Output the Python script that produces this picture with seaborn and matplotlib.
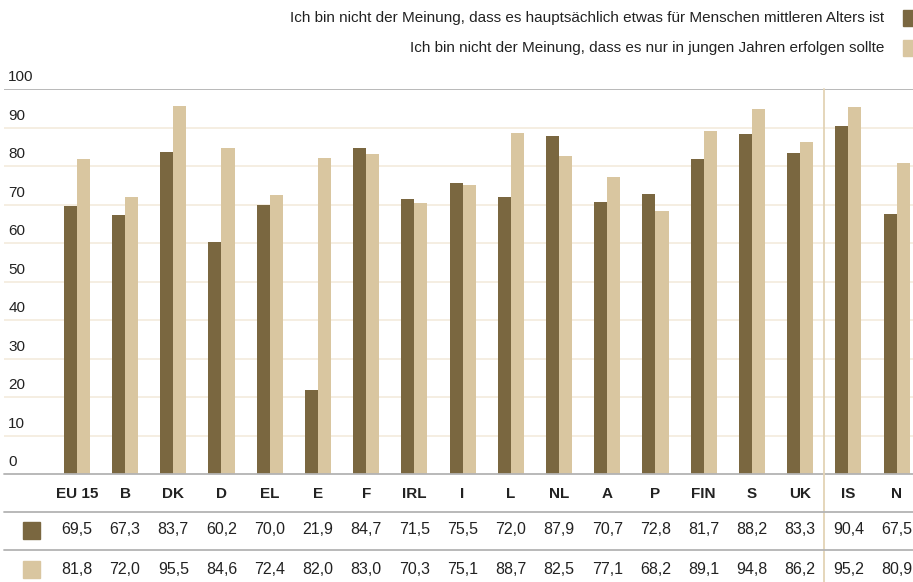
import matplotlib
matplotlib.use("Agg")
import matplotlib.pyplot as plt
import matplotlib.transforms as mtransforms
import pandas as pd
import seaborn as sns

laender = ["EU 15", "B", "DK", "D", "EL", "E", "F", "IRL", "I", "L",
           "NL", "A", "P", "FIN", "S", "UK", "IS", "N"]
mittleres_alter = [69.5, 67.3, 83.7, 60.2, 70.0, 21.9, 84.7, 71.5, 75.5, 72.0,
                   87.9, 70.7, 72.8, 81.7, 88.2, 83.3, 90.4, 67.5]
junge_jahre = [81.8, 72.0, 95.5, 84.6, 72.4, 82.0, 83.0, 70.3, 75.1, 88.7,
               82.5, 77.1, 68.2, 89.1, 94.8, 86.2, 95.2, 80.9]
reihen = ["Ich bin nicht der Meinung, dass es hauptsächlich etwas für Menschen mittleren Alters ist",
          "Ich bin nicht der Meinung, dass es nur in jungen Jahren erfolgen sollte"]
y_ticks = [0, 10, 20, 30, 40, 50, 60, 70, 80, 90, 100]

dunkel = "#7a6740"
hell = "#d9c6a0"
raster = "#f3ebdd"
linie = "#b3b3b3"
trenner = "#e3d3b5"

df = pd.DataFrame({
    "land": laender * 2,
    "wert": mittleres_alter + junge_jahre,
    "reihe": [reihen[0]] * len(laender) + [reihen[1]] * len(laender),
})

sns.set_style("white")
plt.rcParams["font.family"] = ["Liberation Sans", "DejaVu Sans"]

W, H = 913, 582
fig = plt.figure(figsize=(W / 100, H / 100), dpi=100)
ax = fig.add_axes([4 / W, 1 - 474 / H, 909 / W, (474 - 89) / H])

sns.barplot(data=df, x="land", y="wert", hue="reihe", palette=[dunkel, hell],
            width=0.54, legend=False, ax=ax, zorder=3, saturation=1, linewidth=0)

ax.set_xlim(-1.51, 17.34)
ax.set_ylim(0, 100)
for v in y_ticks[1:-1]:
    ax.axhline(v, color=raster, lw=1.2, zorder=1)
for s in ["left", "right", "bottom", "top"]:
    ax.spines[s].set_visible(False)
ax.axhline(100, color=linie, lw=1.3, zorder=4)
ax.axhline(0, color=linie, lw=1.3, zorder=4, clip_on=False)
ax.set_xticks([])
ax.set_yticks([])
ax.set_xlabel("")
ax.set_ylabel("")

# y-Beschriftung oberhalb der Linien
for v in y_ticks:
    ax.text(-1.42, v + 1.2, str(v), ha="left", va="bottom", fontsize=11, color="#222222")

# Trennlinie zwischen EU und Nicht-EU
trans = mtransforms.blended_transform_factory(ax.transData, fig.transFigure)
fig.add_artist(plt.Line2D([15.5, 15.5], [1 - 89 / H, 0], transform=trans,
                          color=trenner, lw=1.3))

# Tabelle unter dem Diagramm
for i, land in enumerate(laender):
    fig.text(i, 1 - 494 / H, land, transform=trans, ha="center", va="center",
             fontsize=11, fontweight="bold", color="#222222")
    fig.text(i, 1 - 530 / H, f"{mittleres_alter[i]:.1f}".replace(".", ","), transform=trans,
             ha="center", va="center", fontsize=11.5, color="#222222")
    fig.text(i, 1 - 569 / H, f"{junge_jahre[i]:.1f}".replace(".", ","), transform=trans,
             ha="center", va="center", fontsize=11.5, color="#222222")

for yy in [512, 550]:
    fig.add_artist(plt.Line2D([4 / W, 1], [1 - yy / H] * 2, transform=fig.transFigure,
                              color=linie, lw=1.3))
fig.add_artist(plt.Rectangle((23 / W, 1 - 539 / H), 17 / W, 17 / H, transform=fig.transFigure,
                             color=dunkel))
fig.add_artist(plt.Rectangle((23 / W, 1 - 578 / H), 17 / W, 17 / H, transform=fig.transFigure,
                             color=hell))

# Legende oben rechts
for yy, txt, col in [(18, reihen[0], dunkel), (48, reihen[1], hell)]:
    fig.text(884 / W, 1 - yy / H, txt, ha="right", va="center", fontsize=11, color="#222222")
    fig.add_artist(plt.Rectangle((903 / W, 1 - (yy + 8) / H), 10 / W, 16 / H,
                                 transform=fig.transFigure, color=col))

fig.savefig("out.png", dpi=100)
